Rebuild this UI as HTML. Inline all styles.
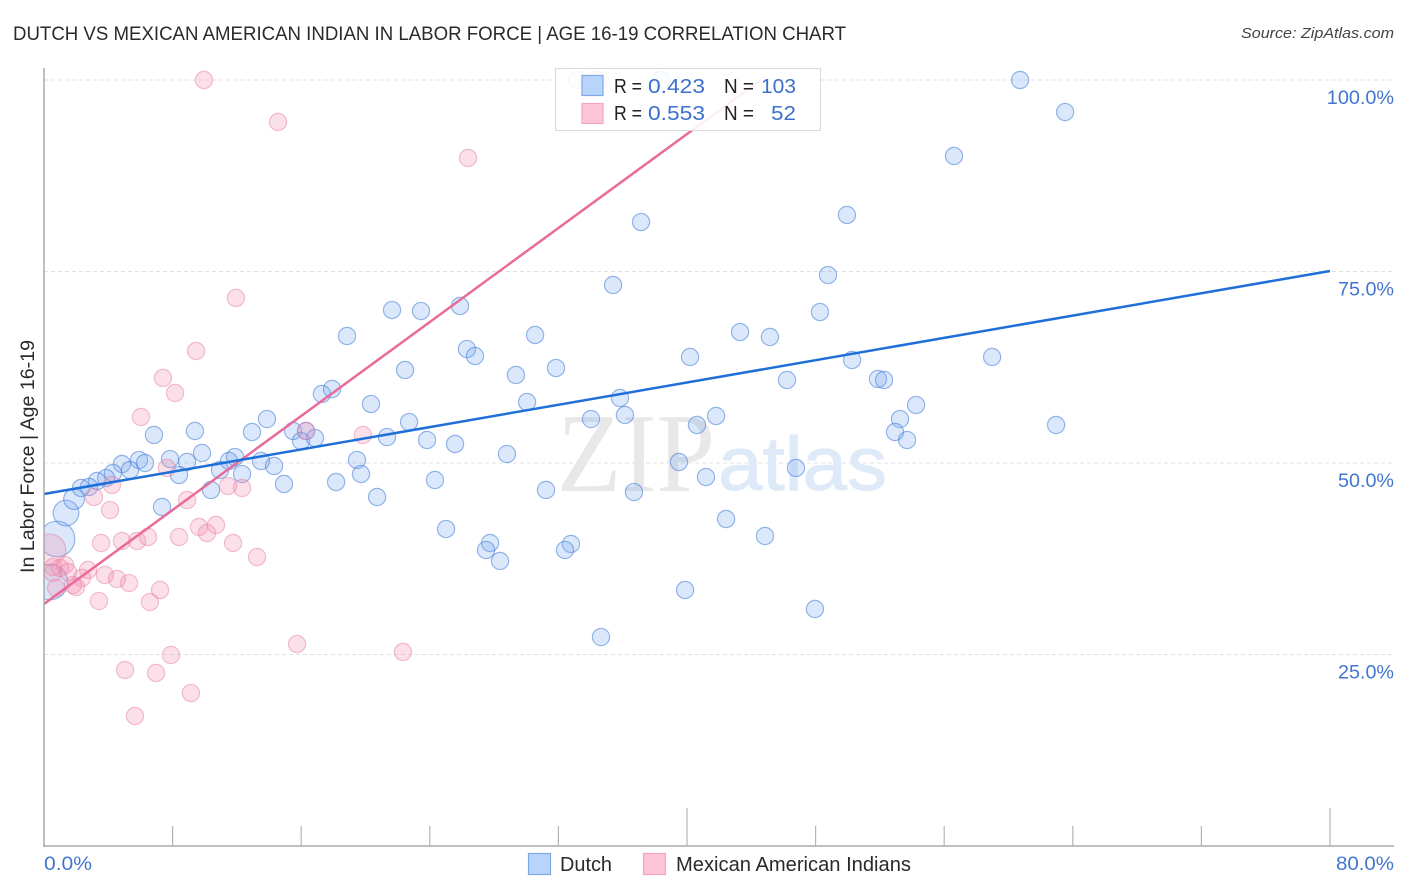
<!DOCTYPE html>
<html lang="en">
<head>
<meta charset="utf-8">
<title>Dutch vs Mexican American Indian in Labor Force | Age 16-19 Correlation Chart</title>
<style>
html,body{margin:0;padding:0;background:#fff;width:1406px;height:892px;overflow:hidden}
svg{display:block}
text{font-family:"Liberation Sans",sans-serif}
</style>
</head>
<body>
<svg id="chart" xmlns="http://www.w3.org/2000/svg" width="1406" height="892" viewBox="0 0 1406 892">
  <defs>
    <clipPath id="plot-clip"><rect x="44" y="60" width="1350" height="786"/></clipPath>
  </defs>
  <text x="13" y="40" font-size="19" fill="#2a2a2a" textLength="833" lengthAdjust="spacingAndGlyphs">DUTCH VS MEXICAN AMERICAN INDIAN IN LABOR FORCE | AGE 16-19 CORRELATION CHART</text>
  <text x="1241" y="38" font-size="15" font-style="italic" fill="#444" textLength="153" lengthAdjust="spacingAndGlyphs">Source: ZipAtlas.com</text>
  <g id="grid"></g>
  <g>
    <text x="557" y="491" font-size="112" fill="#e8e8e8" style="font-family:'Liberation Serif',serif" textLength="158" lengthAdjust="spacingAndGlyphs">ZIP</text>
    <text x="718" y="490" font-size="76" fill="#dfeaf9" stroke="#dfeaf9" stroke-width="1" textLength="169" lengthAdjust="spacingAndGlyphs">atlas</text>
  </g>
  <g id="points" clip-path="url(#plot-clip)"></g>
  <g id="trends"></g>
  <g id="axes"></g>
  <text transform="translate(34,456.5) rotate(-90)" font-size="19.5" fill="#2a2a2a" text-anchor="middle" textLength="233" lengthAdjust="spacingAndGlyphs">In Labor Force | Age 16-19</text>
  <g>
    <rect x="555.5" y="68.5" width="265" height="62" fill="#fff" fill-opacity="0.9" stroke="#d9d9d9" stroke-width="1"/>
    <rect x="582" y="75.5" width="21" height="20" fill="#b5d2fa" fill-opacity="0.95" stroke="#7fa8e6" stroke-width="1.2"/>
    <rect x="582" y="103.5" width="21" height="20" fill="#fdc6d6" stroke="#f3a6bf" stroke-width="1.2"/>
    <text x="614" y="93" font-size="20" fill="#222" textLength="28" lengthAdjust="spacingAndGlyphs">R =</text>
    <text x="648" y="93" font-size="20.5" fill="#3b70cc" textLength="57" lengthAdjust="spacingAndGlyphs">0.423</text>
    <text x="724" y="93" font-size="20" fill="#222" textLength="30" lengthAdjust="spacingAndGlyphs">N =</text>
    <text x="761" y="93" font-size="20.5" fill="#3b70cc" textLength="35" lengthAdjust="spacingAndGlyphs">103</text>
    <text x="614" y="120" font-size="20" fill="#222" textLength="28" lengthAdjust="spacingAndGlyphs">R =</text>
    <text x="648" y="120" font-size="20.5" fill="#3b70cc" textLength="57" lengthAdjust="spacingAndGlyphs">0.553</text>
    <text x="724" y="120" font-size="20" fill="#222" textLength="30" lengthAdjust="spacingAndGlyphs">N =</text>
    <text x="771" y="120" font-size="20.5" fill="#3b70cc" textLength="25" lengthAdjust="spacingAndGlyphs">52</text>
  </g>
  <g>
    <g>
      <rect x="528.5" y="853.5" width="22" height="21" fill="#b8d4fb" stroke="#7fa8e6" stroke-width="1.2"/>
      <text x="560" y="871" font-size="20" fill="#2a2a2a" textLength="52" lengthAdjust="spacingAndGlyphs">Dutch</text>
    </g>
    <g>
      <rect x="643.5" y="853.5" width="22" height="21" fill="#fdc6d6" stroke="#f3a6bf" stroke-width="1.2"/>
      <text x="676" y="871" font-size="20" fill="#2a2a2a" textLength="235" lengthAdjust="spacingAndGlyphs">Mexican American Indians</text>
    </g>
  </g>
</svg>
<script>
// Data: labor force participation. x = share of population (%), y = in labor force (%)
const yTickValues = [25, 50, 75, 100];
const yTickLabels = ["25.0%", "50.0%", "75.0%", "100.0%"];
const xTickValues = [0, 8, 16, 24, 32, 40, 48, 56, 64, 72, 80];
const xMajorTicks = [0, 40, 80];
const xEndLabels = ["0.0%", "80.0%"];

// The first entries of each series carry larger population weights; the others default to 1.
const dutchWeight = [4.28, 4.28, 2.23, 1.46];
const dutchX = [0.37,0.81,1.37,1.87,33.16,34.40,38.38,60.72,63.52,56.61,49.95,37.14,48.77,35.40,48.27,21.65,23.45,25.88,18.85,30.55,43.30,45.16,26.31,26.81,40.19,58.98,50.27,22.46,31.85,29.36,46.22,51.88,52.26,17.29,17.92,20.34,30.05,35.83,34.03,36.14,41.81,54.25,53.25,52.94,53.69,62.96,40.62,22.71,13.87,15.49,16.30,15.99,16.86,12.94,9.39,6.84,21.34,23.83,25.57,28.80,9.83,7.84,8.90,5.91,4.85,6.28,5.35,4.29,3.86,3.30,2.80,2.30,13.50,11.51,11.88,14.31,10.95,12.32,8.40,19.47,19.72,18.17,14.93,10.39,7.34,20.72,24.32,31.23,36.70,39.50,41.18,46.78,42.43,44.85,25.01,27.75,27.50,28.37,32.78,32.41,39.88,47.96,34.65];
const dutchY = [34.47,40.08,43.47,45.30,100,100,100,100,95.82,90.08,82.38,81.46,74.54,73.24,69.71,69.97,69.84,70.50,66.58,66.71,67.10,66.45,64.88,63.97,63.84,63.84,63.45,62.14,62.40,61.49,60.84,60.97,60.84,59.01,59.66,57.70,57.96,58.49,55.74,56.27,56.14,57.57,55.74,54.05,53.00,54.96,54.96,55.35,55.74,54.18,54.18,52.87,53.26,54.05,54.18,53.66,53.39,53.00,52.48,51.18,51.31,50.52,50.13,50.39,49.87,50.00,49.09,48.70,48.04,47.65,46.87,46.74,50.26,50.26,50.78,49.61,49.09,48.56,48.43,50.39,48.56,47.52,47.26,46.48,44.26,45.56,47.78,46.48,46.21,50.13,48.17,49.35,42.69,40.47,41.38,39.56,38.64,37.21,39.43,38.64,33.42,30.94,27.28];

const mexicanWeight = [3.38];
const mexicanX = [0.37,34.59,9.95,14.56,26.38,11.94,9.46,7.40,8.15,6.03,16.30,19.84,7.65,3.11,4.23,4.11,8.90,11.45,12.32,3.55,4.85,5.79,6.47,8.40,9.64,10.14,10.70,11.76,13.25,5.29,4.54,3.79,2.74,2.36,1.99,1.80,1.31,1.00,1.49,0.56,0.56,0.75,3.42,7.22,6.59,15.74,22.33,7.90,5.04,6.97,9.14,5.66];
const mexicanY = [38.64,100,100,94.52,89.82,71.54,64.62,61.10,59.14,56.01,54.18,53.66,49.35,45.56,47.13,43.86,45.17,47.00,46.74,39.56,39.82,39.82,40.34,40.34,41.65,40.86,41.91,39.56,37.73,34.33,34.86,35.38,36.03,34.99,33.81,34.07,36.68,36.29,35.77,36.42,35.64,33.68,31.98,33.42,31.85,26.37,25.33,24.94,22.98,22.59,19.97,16.97];

const dutchTrendX = [0, 80];
const dutchTrendY = [45.95, 75.07];
const mexicanTrendX = [0, 44.6];
const mexicanTrendY = [31.6, 100];

// Axis functions
const X0 = 44, X1 = 1330, Y0 = 846, Y100 = 80;
function xScale(v) { return X0 + (X1 - X0) * v / 80; }
function yScale(v) { return Y0 - (Y0 - Y100) * v / 100; }

const SVG_NS = "http://www.w3.org/2000/svg";
function make(parent, tag, attrs, txt) {
  const el = document.createElementNS(SVG_NS, tag);
  for (const k in attrs) el.setAttribute(k, attrs[k]);
  if (txt !== undefined) el.textContent = txt;
  parent.appendChild(el);
  return el;
}

const gridG = document.getElementById("grid");
const axesG = document.getElementById("axes");
const pointsG = document.getElementById("points");
const trendsG = document.getElementById("trends");
const TICK_BLUE = "#4175d0";

yTickValues.forEach(function (v, i) {
  const line = make(gridG, "line", { x1: X0, x2: 1394, y1: yScale(v), y2: yScale(v), stroke: "#e0e0e0", "stroke-width": 1, "stroke-dasharray": "4 3" });
  
  
  const label = make(axesG, "text", { x: 1394, y: yScale(v) + 24, "font-size": 19.5, fill: TICK_BLUE, "text-anchor": "end", textLength: yTickLabels[i].length * 11.2, lengthAdjust: "spacingAndGlyphs" }, yTickLabels[i]);
  
  
});

const yAxis = make(axesG, "line", { x1: 44, x2: 44, y1: 68, y2: 847, stroke: "#aaa", "stroke-width": 1.5 });


const xAxis = make(axesG, "line", { x1: 44, x2: 1394, y1: 846, y2: 846, stroke: "#aaa", "stroke-width": 1.5 });



xTickValues.forEach(function (v) {
  if (v === 0) return;
  const top = xMajorTicks.indexOf(v) >= 0 ? 808 : 826;
  const tick = make(axesG, "line", { x1: xScale(v), x2: xScale(v), y1: top, y2: 846, stroke: "#b5b5b5", "stroke-width": 1.2 });
  
  
});

const xLabelLeft = make(axesG, "text", { x: 44, y: 870, "font-size": 19.5, fill: TICK_BLUE, textLength: 48, lengthAdjust: "spacingAndGlyphs" }, xEndLabels[0]);


const xLabelRight = make(axesG, "text", { x: 1336, y: 870, "font-size": 19.5, fill: TICK_BLUE, textLength: 58, lengthAdjust: "spacingAndGlyphs" }, xEndLabels[1]);



const BASE_R = 8.6;
dutchX.forEach(function (x, i) {
  const w = dutchWeight[i] === undefined ? 1 : dutchWeight[i];
  const c = make(pointsG, "circle", { cx: xScale(x), cy: yScale(dutchY[i]), r: BASE_R * Math.sqrt(w), fill: "rgba(110,165,240,0.25)", stroke: "rgba(70,125,215,0.55)", "stroke-width": 1.2 });
  
  
});
mexicanX.forEach(function (x, i) {
  const w = mexicanWeight[i] === undefined ? 1 : mexicanWeight[i];
  const c = make(pointsG, "circle", { cx: xScale(x), cy: yScale(mexicanY[i]), r: BASE_R * Math.sqrt(w), fill: "rgba(244,140,172,0.27)", stroke: "rgba(230,130,165,0.5)", "stroke-width": 1.2 });
  
  
});

const trendMexican = make(trendsG, "line", { x1: xScale(mexicanTrendX[0]), y1: yScale(mexicanTrendY[0]), x2: xScale(mexicanTrendX[1]), y2: yScale(mexicanTrendY[1]), stroke: "#e96a9b", "stroke-width": 2.5 });


const trendDutch = make(trendsG, "line", { x1: xScale(dutchTrendX[0]), y1: yScale(dutchTrendY[0]), x2: xScale(dutchTrendX[1]), y2: yScale(dutchTrendY[1]), stroke: "#1f6fd9", "stroke-width": 2.5 });


</script>
</body>
</html>
